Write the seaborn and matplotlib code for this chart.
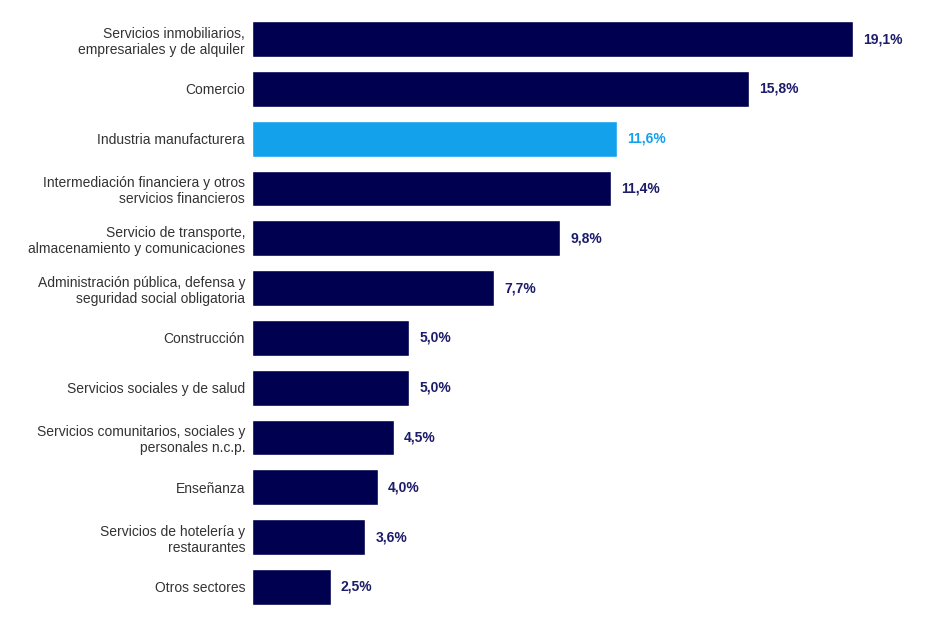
import matplotlib
matplotlib.use("Agg")
import matplotlib.pyplot as plt
import seaborn as sns
import pandas as pd

sectores = [
    "Servicios inmobiliarios,\nempresariales y de alquiler",
    "Comercio",
    "Industria manufacturera",
    "Intermediación financiera y otros\nservicios financieros",
    "Servicio de transporte,\nalmacenamiento y comunicaciones",
    "Administración pública, defensa y\nseguridad social obligatoria",
    "Construcción",
    "Servicios sociales y de salud",
    "Servicios comunitarios, sociales y\npersonales n.c.p.",
    "Enseñanza",
    "Servicios de hotelería y\nrestaurantes",
    "Otros sectores",
]
participacion = [19.1, 15.8, 11.6, 11.4, 9.8, 7.7, 5.0, 5.0, 4.5, 4.0, 3.6, 2.5]
destacado = "Industria manufacturera"

NAVY = "#000050"
CELESTE = "#13a1ec"

df = pd.DataFrame({"sector": sectores, "valor": participacion})
colores = [CELESTE if s == destacado else NAVY for s in sectores]

sns.set_style("white")
plt.rcParams["font.family"] = ["Liberation Sans", "DejaVu Sans"]

fig = plt.figure(figsize=(9.34, 6.29), dpi=100)
ax = fig.add_axes([252 / 934, 1 - 611.9 / 629, (925 - 252) / 934, 597.8 / 629])

sns.barplot(data=df, y="sector", x="valor", hue="sector", palette=colores,
            legend=False, width=0.72, ax=ax, saturation=1)

xmax = (925 - 252) / (601 / 19.1)
ax.set_xlim(0, xmax)
ax.set_ylim(11.5, -0.5)

for i, (s, v) in enumerate(zip(sectores, participacion)):
    c = CELESTE if s == destacado else "#1c1c6a"
    ax.text(v + 0.32, i, f"{v:.1f}%".replace(".", ","), va="center", ha="left",
            fontsize=10, fontweight="bold", color=c)

ax.set_xlabel("")
ax.set_ylabel("")
ax.set_xticks([])
ax.tick_params(axis="y", length=0, pad=5, labelsize=10, labelcolor="#333333")
for lbl in ax.get_yticklabels():
    lbl.set_multialignment("right")
sns.despine(ax=ax, left=True, bottom=True)

fig.savefig("out.png", dpi=100)
